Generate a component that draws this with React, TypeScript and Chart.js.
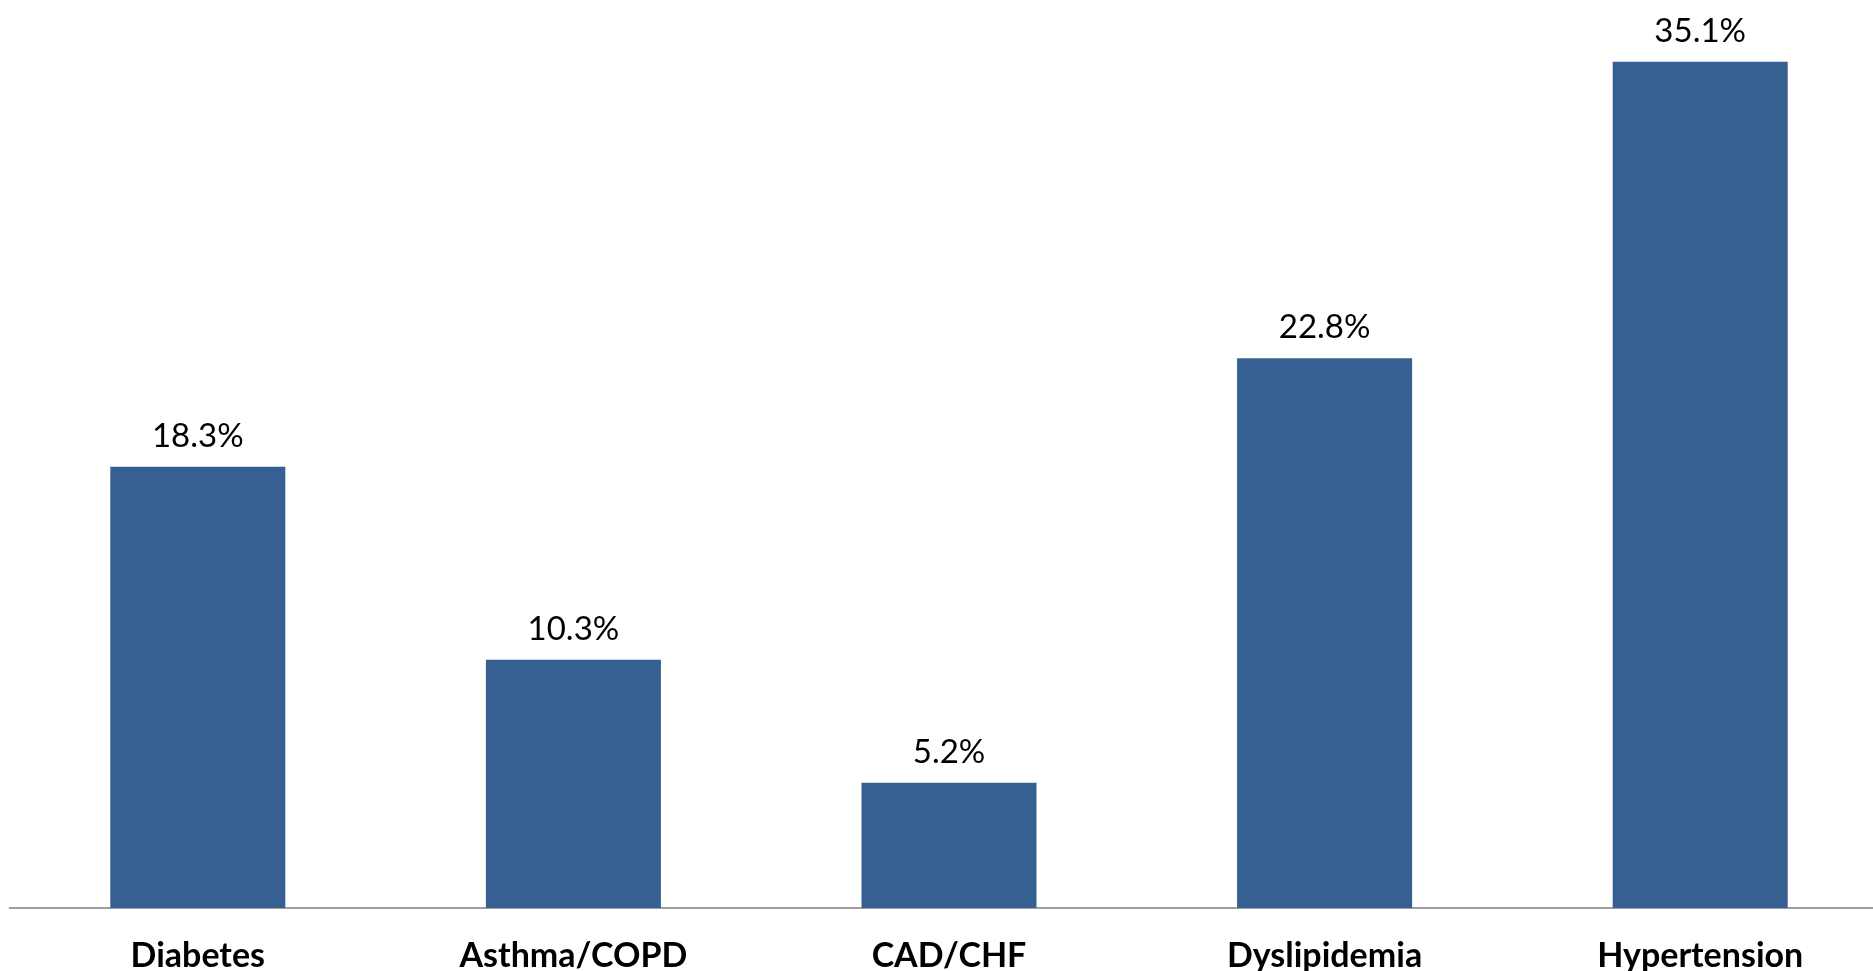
import React, { useEffect, useRef } from "react";
import { Chart, registerables } from "chart.js";

Chart.register(...registerables);

// Share of patients with each chronic condition (%)
const conditions = ["Diabetes", "Asthma/COPD", "CAD/CHF", "Dyslipidemia", "Hypertension"];
const prevalence = [18.3, 10.3, 5.2, 22.8, 35.1];

const BAR_COLOR = "#376092";
const FONT = "Lato, 'Open Sans', 'Liberation Sans', sans-serif";

// Writes each bar's percentage just above it
const valueLabels = {
  id: "valueLabels",
  afterDatasetsDraw(chart: any) {
    const { ctx } = chart;
    const meta = chart.getDatasetMeta(0);
    ctx.save();
    ctx.font = `33px ${FONT}`;
    ctx.fillStyle = "#000000";
    ctx.textAlign = "center";
    ctx.textBaseline = "alphabetic";
    meta.data.forEach((bar: any, i: number) => {
      const v = chart.data.datasets[0].data[i] as number;
      ctx.fillText(`${v.toFixed(1)}%`, bar.x, bar.y - 20);
    });
    ctx.restore();
  },
};

export default function App() {
  const canvasRef = useRef<HTMLCanvasElement | null>(null);

  useEffect(() => {
    if (!canvasRef.current) return;
    const chart = new Chart(canvasRef.current, {
      type: "bar",
      data: {
        labels: conditions,
        datasets: [
          {
            data: prevalence,
            backgroundColor: BAR_COLOR,
            borderWidth: 0,
            barPercentage: 1,
            categoryPercentage: 0.466,
          },
        ],
      },
      options: {
        responsive: false,
        animation: false,
        layout: { padding: { left: 10, right: 2, top: 0, bottom: 0 } },
        plugins: {
          legend: { display: false },
          tooltip: { enabled: false },
        },
        scales: {
          x: {
            grid: { display: false, drawTicks: false },
            border: { display: true, color: "#9f9f9f", width: 2 },
            ticks: {
              color: "#000000",
              padding: 28,
              font: { family: FONT, size: 34, weight: "bold", lineHeight: 1.2 },
            },
            afterFit(scale: any) {
              scale.height = 63;
            },
          },
          y: {
            display: false,
            min: 0,
            max: 37.66,
          },
        },
      },
      plugins: [valueLabels],
    });
    return () => chart.destroy();
  }, []);

  return (
    <div
      style={{
        position: "fixed",
        left: 0,
        top: 0,
        width: 1873,
        height: 971,
        overflow: "hidden",
        background: "#ffffff",
      }}
    >
      <canvas ref={canvasRef} width={1890} height={971} style={{ display: "block" }} />
    </div>
  );
}
